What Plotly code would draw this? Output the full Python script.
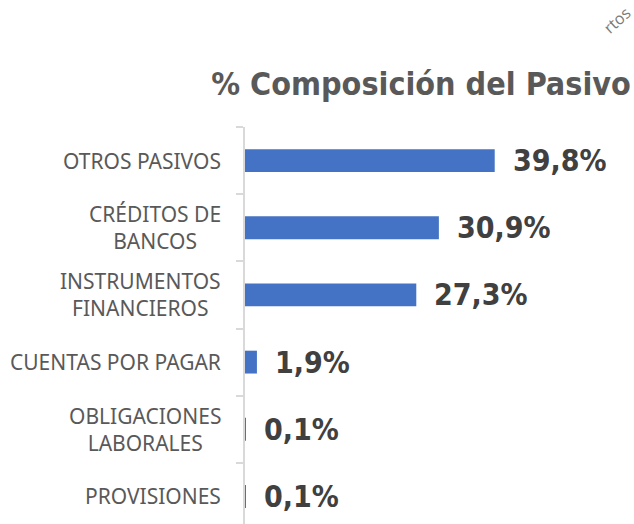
import plotly.graph_objects as go

categorias = ["OTROS PASIVOS", "CRÉDITOS DE<br>BANCOS", "INSTRUMENTOS<br>FINANCIEROS",
              "CUENTAS POR PAGAR", "OBLIGACIONES<br>LABORALES", "PROVISIONES"]
valores = [39.8, 30.9, 27.3, 1.9, 0.1, 0.1]
etiquetas = ["39,8%", "30,9%", "27,3%", "1,9%", "0,1%", "0,1%"]

fig = go.Figure()
fig.add_trace(go.Bar(
    x=valores,
    y=categorias,
    orientation='h',
    width=0.34,
    marker=dict(color='#4472C4', line=dict(width=0)),
    hoverinfo='skip'
))

# etiquetas de valor a la derecha de cada barra
for cat, val, txt in zip(categorias, valores, etiquetas):
    fig.add_annotation(
        x=val, y=cat, text=txt, showarrow=False,
        xanchor='left', yanchor='middle', xshift=16,
        font=dict(family='DejaVu Sans Condensed', size=30, color='#404040', weight='bold')
    )

# nombres de categoria centrados (como en Excel)
for cat in categorias:
    fig.add_annotation(
        x=0, xref='paper', y=cat, text=cat, showarrow=False,
        xanchor='right', yanchor='middle', xshift=-22, align='center',
        font=dict(family='Noto Sans', size=21, color='#595959')
    )

# marca de agua recortada
fig.add_annotation(
    x=1.0, xref='paper', y=1.27, yref='paper', text='rtos', showarrow=False,
    xanchor='center', yanchor='middle', xshift=-17, textangle=-42,
    font=dict(family='Open Sans', size=16, color='#7a7a7a')
)

fig.update_layout(
    title=dict(
        text='% Composición del Pasivo',
        xref='container', x=0.995, xanchor='right',
        yref='container', y=0.84, yanchor='middle',
        font=dict(family='DejaVu Sans Condensed', size=32, color='#595959', weight='bold')
    ),
    width=634,
    height=524,
    margin=dict(l=245, r=0, t=127, b=0),
    plot_bgcolor='white',
    paper_bgcolor='white',
    showlegend=False,
    xaxis=dict(range=[0, 62], visible=False, fixedrange=True),
    yaxis=dict(
        type='category',
        range=[5.41, -0.5],
        showticklabels=False,
        showline=True, linecolor='#d9d9d9', linewidth=2,
        ticks='outside', tickson='boundaries', ticklen=7, tickcolor='#d9d9d9', tickwidth=2,
        showgrid=False, zeroline=False
    )
)

fig.write_html("out.html", config=dict(displayModeBar=False),
               post_script="document.body.style.margin='0';")
